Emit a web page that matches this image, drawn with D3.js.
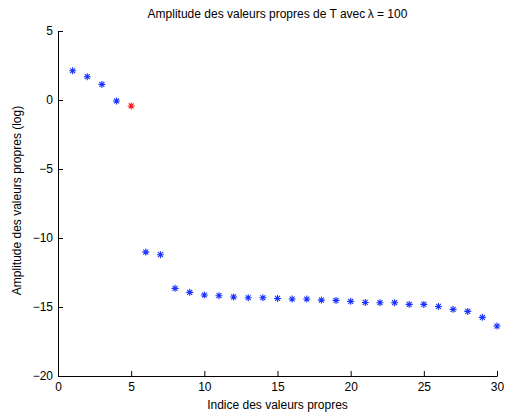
<!DOCTYPE html>
<html>
<head>
<meta charset="utf-8">
<script src="https://cdn.jsdelivr.net/npm/d3@7"></script>
<style>
  body { margin: 0; background: #fff; }
  text { font-family: "Liberation Sans", Arial, sans-serif; }
</style>
</head>
<body>
<div id="chart"></div>
<script>
// indices and log-amplitudes of the eigenvalues
let indices = d3.range(1, 31)
let amplitudes = [2.12, 1.69, 1.13, -0.07, -0.43, -11.02, -11.21, -13.65, -13.94, -14.13,
  -14.18, -14.27, -14.33, -14.33, -14.38, -14.42, -14.42, -14.5, -14.52, -14.59,
  -14.67, -14.69, -14.69, -14.81, -14.81, -14.96, -15.17, -15.32, -15.75, -16.38]
let highlight = 5
let xTicks = [0, 5, 10, 15, 20, 25, 30]
let yTicks = [5, 0, -5, -10, -15, -20]

let data = indices.map((d, i) => ({ idx: d, amp: amplitudes[i] }))

let margin = {top: 31, right: 11, bottom: 36, left: 58},
    width = 508 - margin.left - margin.right,
    height = 412 - margin.top - margin.bottom;

let x = d3.scaleLinear().domain([0, 30]).range([0, width]);
let y = d3.scaleLinear().domain([-20, 5]).range([height, 0]);

let svg = d3.select('#chart').append('svg')
    .attr("width", 508)
    .attr("height", 412)
  .append("g")
    .attr("transform", "translate(" + margin.left + "," + margin.top + ")");

let xAxis = svg.append("g")
    .attr("transform", "translate(0," + height + ")")
    .call(d3.axisBottom(x).tickValues(xTicks).tickSize(-5).tickPadding(6).tickSizeOuter(0));

let yAxis = svg.append("g")
    .call(d3.axisLeft(y).tickValues(yTicks).tickSize(-5).tickPadding(5).tickSizeOuter(0));

[xAxis, yAxis].forEach(g => {
  g.selectAll("text").attr("font-size", 12).attr("fill", "#000")
  g.select(".domain").attr("stroke", "#000")
  g.selectAll(".tick line").attr("stroke", "#000")
})
xAxis.selectAll("text").attr("dy", "0.71em")

// asterisk markers
let r = 3.5
let star = d => {
  let s = ""
  for (let k = 0; k < 4; k++) {
    let a = k * Math.PI / 4
    let dx = r * Math.cos(a), dy = r * Math.sin(a)
    s += "M" + (-dx) + "," + (-dy) + "L" + dx + "," + dy
  }
  return s
}

svg.selectAll(".pt")
  .data(data)
  .enter().append("path")
    .attr("class", "pt")
    .attr("transform", d => "translate(" + x(d.idx) + "," + y(d.amp) + ")")
    .attr("d", star)
    .attr("fill", "none")
    .attr("stroke", d => d.idx == highlight ? "#ff1a1a" : "#1a33ff")
    .attr("stroke-width", 1.1);

svg.append("text")
    .attr("x", width / 2)
    .attr("y", -13)
    .attr("text-anchor", "middle")
    .attr("font-size", 12)
    .text("Amplitude des valeurs propres de T avec\u2009λ = 100");

svg.append("text")
    .attr("x", width / 2)
    .attr("y", height + 33)
    .attr("text-anchor", "middle")
    .attr("font-size", 12)
    .text("Indice des valeurs propres");

svg.append("text")
    .attr("transform", "translate(" + (-37) + "," + (height / 2 - 3) + ") rotate(-90)")
    .attr("text-anchor", "middle")
    .attr("font-size", 12)
    .text("Amplitude des valeurs propres (log)");
</script>
</body>
</html>
